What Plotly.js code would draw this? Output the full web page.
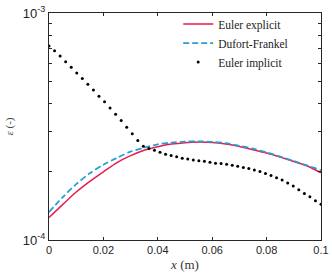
<!DOCTYPE html>
<html>
<head>
<meta charset="utf-8">
<script src="https://cdn.plot.ly/plotly-3.0.1.min.js"></script>
<style>html,body{margin:0;padding:0;background:#fff;}#chart{width:332px;height:276px;}</style>
</head>
<body>
<div id="chart"></div>
<script>
// Euler explicit and Dufort-Frankel (sampled every 0.005 m)
const xLine = [0, 0.005, 0.01, 0.015, 0.02, 0.025, 0.03, 0.035, 0.04, 0.045, 0.05,
               0.055, 0.06, 0.065, 0.07, 0.075, 0.08, 0.085, 0.09, 0.095, 0.1];
const eulerExplicit = [1.256e-4, 1.432e-4, 1.627e-4, 1.813e-4, 1.998e-4, 2.194e-4, 2.353e-4,
                       2.487e-4, 2.576e-4, 2.645e-4, 2.685e-4, 2.702e-4, 2.689e-4, 2.646e-4,
                       2.582e-4, 2.500e-4, 2.416e-4, 2.318e-4, 2.217e-4, 2.119e-4, 1.976e-4];
const dufortFrankel = [1.327e-4, 1.542e-4, 1.762e-4, 1.969e-4, 2.147e-4, 2.302e-4, 2.449e-4,
                       2.554e-4, 2.640e-4, 2.685e-4, 2.713e-4, 2.721e-4, 2.707e-4, 2.673e-4,
                       2.601e-4, 2.524e-4, 2.432e-4, 2.330e-4, 2.228e-4, 2.129e-4, 2.029e-4];
// Euler implicit (50 grid points)
const xImplicit = [0, 0.00204, 0.00408, 0.00612, 0.00816, 0.0102, 0.01224, 0.01429, 0.01633, 0.01837,
                   0.02041, 0.02245, 0.02449, 0.02653, 0.02857, 0.03061, 0.03265, 0.03469, 0.03673, 0.03878,
                   0.04082, 0.04286, 0.0449, 0.04694, 0.04898, 0.05102, 0.05306, 0.0551, 0.05714, 0.05918,
                   0.06122, 0.06327, 0.06531, 0.06735, 0.06939, 0.07143, 0.07347, 0.07551, 0.07755, 0.07959,
                   0.08163, 0.08367, 0.08571, 0.08776, 0.0898, 0.09184, 0.09388, 0.09592, 0.09796, 0.1];
const eulerImplicit = [7.163e-4, 6.816e-4, 6.457e-4, 6.105e-4, 5.766e-4, 5.446e-4, 5.149e-4, 4.850e-4, 4.580e-4, 4.300e-4,
                       4.061e-4, 3.814e-4, 3.577e-4, 3.357e-4, 3.141e-4, 2.939e-4, 2.741e-4, 2.588e-4, 2.529e-4, 2.487e-4,
                       2.438e-4, 2.389e-4, 2.358e-4, 2.325e-4, 2.289e-4, 2.272e-4, 2.250e-4, 2.234e-4, 2.221e-4, 2.199e-4,
                       2.177e-4, 2.172e-4, 2.156e-4, 2.134e-4, 2.113e-4, 2.084e-4, 2.063e-4, 2.036e-4, 2.002e-4, 1.962e-4,
                       1.923e-4, 1.879e-4, 1.836e-4, 1.782e-4, 1.729e-4, 1.666e-4, 1.601e-4, 1.549e-4, 1.488e-4, 1.438e-4];
const xTicks = [0, 0.02, 0.04, 0.06, 0.08, 0.1];
const xTickText = ['0', '0.02', '0.04', '0.06', '0.08', '0.1'];
const yTicks = [1e-4, 1e-3];
const yTickText = ['10<sup>-4</sup>', '10<sup>-3</sup>'];
const yMinorTicks = [2e-4, 3e-4, 4e-4, 5e-4, 6e-4, 7e-4, 8e-4, 9e-4];

const traces = [
  {x: xLine, y: eulerExplicit, name: 'Euler explicit', mode: 'lines', type: 'scatter',
   line: {color: '#ea1a50', width: 1.5, shape: 'spline', smoothing: 0.8}},
  {x: xLine, y: dufortFrankel, name: 'Dufort-Frankel', mode: 'lines', type: 'scatter',
   line: {color: '#259fd2', width: 1.8, dash: '6px,3px', shape: 'spline', smoothing: 0.8}},
  {x: xImplicit, y: eulerImplicit, name: 'Euler implicit', mode: 'markers', type: 'scatter',
   marker: {color: '#000', size: 3}}
];

const axisFont = {family: 'Liberation Sans, Arial, sans-serif', size: 11, color: '#262626'};
const layout = {
  width: 332, height: 276,
  margin: {l: 49, r: 11, t: 10, b: 36},
  paper_bgcolor: '#fff', plot_bgcolor: '#fff',
  showlegend: true,
  legend: {x: 0.475, y: 1.015, xanchor: 'left', yanchor: 'top', bgcolor: 'rgba(0,0,0,0)',
           font: {family: 'Liberation Serif, DejaVu Serif, serif', size: 11.5, color: '#222'},
           tracegroupgap: 0, itemwidth: 30},
  xaxis: {range: [0, 0.1], tickvals: xTicks, ticktext: xTickText, ticks: 'inside', ticklen: 3,
          tickcolor: '#262626', showline: true, linecolor: '#262626', linewidth: 1, mirror: 'ticks',
          showgrid: false, zeroline: false, tickfont: axisFont,
          title: {text: '<i>x</i> (m)', font: {family: 'Liberation Serif, DejaVu Serif, serif', size: 13, color: '#333'}, standoff: 4}},
  yaxis: {type: 'log', range: [-4, -3], tickmode: 'array', tickvals: yTicks, ticktext: yTickText, ticks: 'inside', ticklen: 3,
          minor: {tickmode: 'array', tickvals: yMinorTicks, ticks: 'inside', ticklen: 3, tickcolor: '#262626', showgrid: false},
          tickcolor: '#262626', showline: true, linecolor: '#262626', linewidth: 1, mirror: 'ticks',
          showgrid: false, zeroline: false, tickfont: {family: 'Liberation Sans, Arial, sans-serif', size: 13, color: '#262626'},
          title: {text: '<i>ε</i> (-)', font: {family: 'Liberation Serif, DejaVu Serif, serif', size: 11, color: '#444'}, standoff: 6}}
};
Plotly.newPlot('chart', traces, layout, {staticPlot: true, displayModeBar: false});
</script>
</body>
</html>
